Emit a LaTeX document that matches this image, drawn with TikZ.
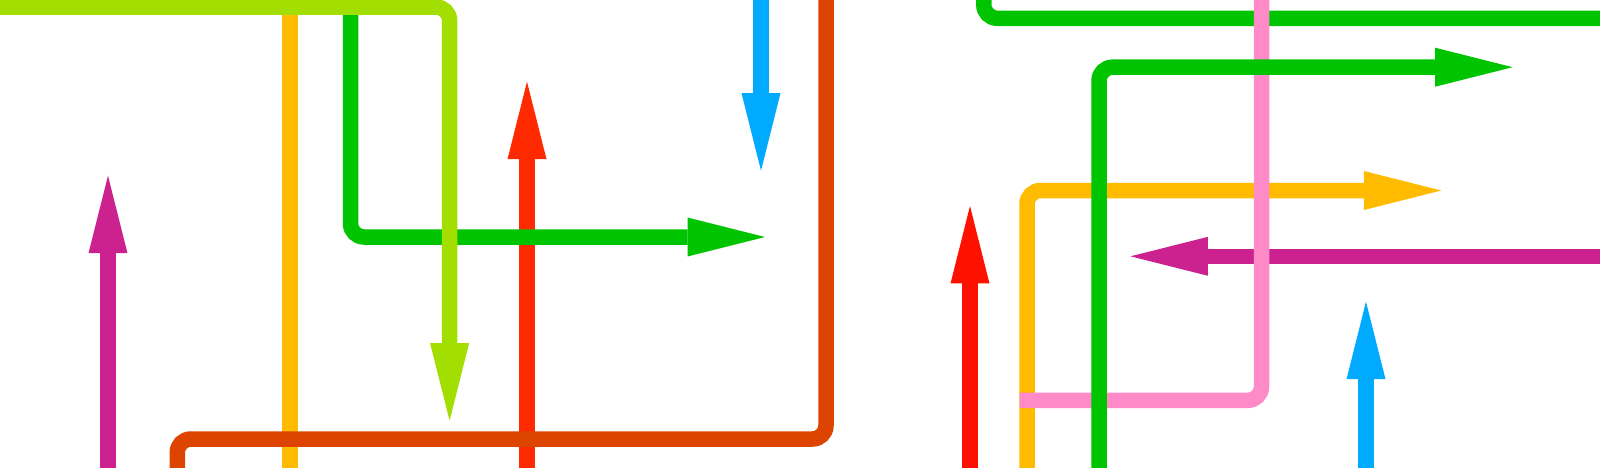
\documentclass[tikz,border=0pt]{standalone}
\usepackage{tikz}
\usetikzlibrary{arrows.meta}

\definecolor{limeg}{HTML}{A2DF00}
\definecolor{gold}{HTML}{FFBB00}
\definecolor{grass}{HTML}{00C400}
\definecolor{flame}{HTML}{FF2A00}
\definecolor{scarlet}{HTML}{FF1100}
\definecolor{sky}{HTML}{00AAFF}
\definecolor{rust}{HTML}{DD4400}
\definecolor{plum}{HTML}{CC2290}
\definecolor{rose}{HTML}{FF8AC8}

\begin{document}
\begin{tikzpicture}[x = 0.02cm, y = -0.02cm,
  track/.style = {line width = 0.31cm, rounded corners = 0.27cm},
  tip/.style = {-{Triangle[length = 1.55cm, width = 0.78cm, line width = 0pt]}}]
\useasboundingbox (0,0) rectangle (1600,467);
\clip (0,0) rectangle (1600,467);
% left half
\coordinate (y0) at (290,-5);
\coordinate (y1) at (290,472);
\coordinate (r0) at (527,472);
\coordinate (r1) at (527,81.7);
\coordinate (g0) at (350.5,-5);
\coordinate (g1) at (350.5,237);
\coordinate (g2) at (765,237);
\coordinate (l0) at (-5,7);
\coordinate (l1) at (449.6,7);
\coordinate (l2) at (449.6,420.7);
\coordinate (o0) at (826,-5);
\coordinate (o1) at (826,439);
\coordinate (o2) at (177.3,439);
\coordinate (o3) at (177.3,472);
\coordinate (b0) at (761,-5);
\coordinate (b1) at (761,170.7);
\coordinate (m0) at (108,472);
\coordinate (m1) at (108,175.7);
\draw[track, gold] (y0) -- (y1);
\draw[track, tip, flame] (r0) -- (r1);
\draw[track, tip, grass] (g0) -- (g1) -- (g2);
\draw[track, tip, limeg] (l0) -- (l1) -- (l2);
\draw[track, rust] (o0) -- (o1) -- (o2) -- (o3);
\draw[track, tip, sky] (b0) -- (b1);
\draw[track, tip, plum] (m0) -- (m1);
% right half
\coordinate (G0) at (983.8,-5);
\coordinate (G1) at (983.8,18.3);
\coordinate (G2) at (1605,18.3);
\coordinate (Y0) at (1027,472);
\coordinate (Y1) at (1027,190.5);
\coordinate (Y2) at (1441.3,190.5);
\coordinate (M0) at (1605,256.3);
\coordinate (M1) at (1130.5,256.3);
\coordinate (P0) at (1261.5,-5);
\coordinate (P1) at (1261.5,400.3);
\coordinate (P2) at (1019.5,400.3);
\coordinate (H0) at (1099,472);
\coordinate (H1) at (1099,67.2);
\coordinate (H2) at (1512.6,67.2);
\coordinate (R0) at (970,472);
\coordinate (R1) at (970,206);
\coordinate (B0) at (1366,472);
\coordinate (B1) at (1366,301.7);
\draw[track, grass] (G0) -- (G1) -- (G2);
\draw[track, tip, gold] (Y0) -- (Y1) -- (Y2);
\draw[track, tip, plum] (M0) -- (M1);
\draw[track, rose] (P0) -- (P1) -- (P2);
\draw[track, tip, grass] (H0) -- (H1) -- (H2);
\draw[track, tip, scarlet] (R0) -- (R1);
\draw[track, tip, sky] (B0) -- (B1);
\end{tikzpicture}
\end{document}
